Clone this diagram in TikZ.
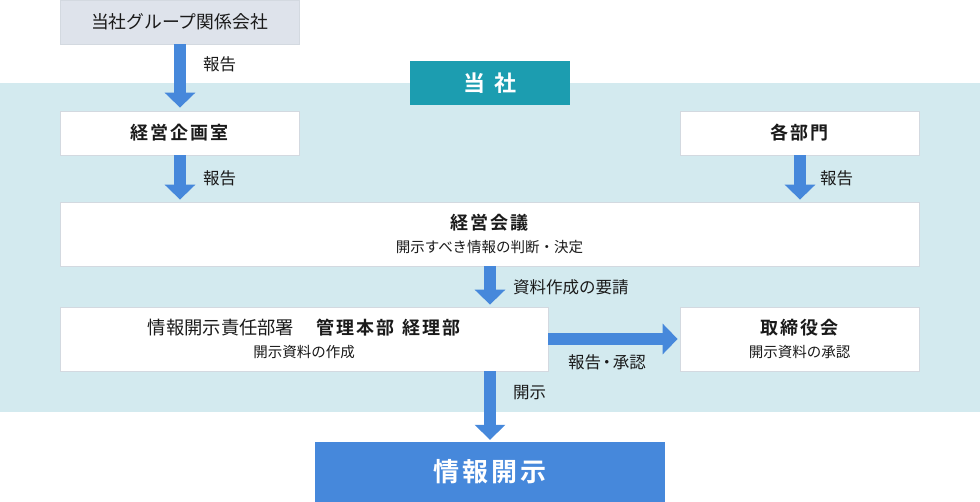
\documentclass[tikz,border=0pt]{standalone}
\usepackage{fontspec}
\setmainfont{Noto Sans CJK JP}[BoldFont={Noto Sans CJK JP Bold}]
\newfontfamily\jpbold{Noto Sans CJK JP Bold}[LetterSpace=11]
\newfontfamily\jpboldwide{Noto Sans CJK JP Bold}
\usetikzlibrary{arrows.meta}

\definecolor{bandcol}{HTML}{D3EAEF}
\definecolor{toshacol}{HTML}{1C9DB0}
\definecolor{groupfill}{HTML}{DEE3EB}
\definecolor{boxline}{HTML}{D3D9E0}
\definecolor{flowblue}{HTML}{4688DB}
\definecolor{textcol}{HTML}{1A1A1A}

\newcommand{\titlefont}{\jpbold\fontsize{18}{25}\selectfont}
\newcommand{\subfont}{\fontsize{14.5}{25}\selectfont}
\newcommand{\ndot}{\kern-0.15em・\kern-0.15em}

\tikzset{
  box/.style={draw=boxline, fill=white, line width=0.8pt, minimum height=44pt,
    inner sep=0pt, align=center, text=textcol},
  flow/.style={draw=flowblue, line width=12pt, -{Triangle[width=30pt,length=15pt]}},
  note/.style={font=\fontsize{16.5}{18}\selectfont, text=textcol, anchor=west, inner sep=0pt}
}

\begin{document}
\begin{tikzpicture}[x=1pt,y=-1pt]
\useasboundingbox (0,0) rectangle (980,502);

% company band
\fill[bandcol] (0,83) rectangle (980,412);
\node[fill=toshacol, text=white, minimum width=160pt, minimum height=44pt, inner sep=0pt]
  (tosha) at (490,83) {\jpboldwide\fontsize{22}{24}\selectfont 当\hspace{0.45em}社};

% boxes
\node[box, fill=groupfill, minimum width=239pt] (group) at (179.5,22)
  {\fontsize{17.8}{20}\selectfont 当社グループ関係会社};
\node[box, minimum width=239pt] (kikaku) at (179.5,133) {\titlefont 経営企画室};
\node[box, minimum width=239pt] (bumon) at (799.5,133) {\titlefont 各部門};
\node[box, minimum width=859pt, minimum height=64pt] (kaigi) at (489.5,234)
  {{\titlefont 経営会議}\\[9pt]{\subfont 開示すべき情報の判断・決定}};
\node[box, minimum width=488pt, minimum height=64pt] (sekinin) at (304,339)
  {{\fontsize{18.3}{25}\selectfont 情報開示責任部署\hspace{1.2em}{\titlefont 管理本部\hspace{0.45em}経理部}}\\[9pt]{\subfont 開示資料の作成}};
\node[box, minimum width=239pt, minimum height=64pt] (torishimari) at (799.5,339)
  {{\titlefont 取締役会}\\[9pt]{\subfont 開示資料の承認}};
\node[fill=flowblue, text=white, minimum width=350pt, minimum height=60pt, inner sep=0pt]
  (kaiji) at (490,472) {\jpbold\fontsize{26}{28}\selectfont 情報開示};

% arrows
\draw[flow, shorten >=3pt] (group.south -| 180,0) -- (kikaku.north -| 180,0);
\draw[flow, shorten >=2pt] (kikaku.south -| 180,0) -- (kaigi.north -| 180,0);
\draw[flow, shorten >=2pt] (bumon.south -| 800,0) -- (kaigi.north -| 800,0);
\draw[flow, shorten >=2pt] (kaigi.south -| 490,0) -- (sekinin.north -| 490,0);
\draw[flow, shorten >=2pt] (sekinin.east) -- (torishimari.west);
\draw[flow, shorten >=2pt] (kaiji.north |- sekinin.south) -- (kaiji.north);

% labels
\node[note] (hokoku1) at (203,64) {報告};
\node[note] (hokoku2) at (203,178) {報告};
\node[note] (hokoku3) at (820,178) {報告};
\node[note] (yosei) at (513,287) {資料作成の要請};
\node[note] (shonin) at (568,362) {報告\ndot 承認};
\node[note] (kaijilbl) at (513,393) {開示};
\end{tikzpicture}
\end{document}
